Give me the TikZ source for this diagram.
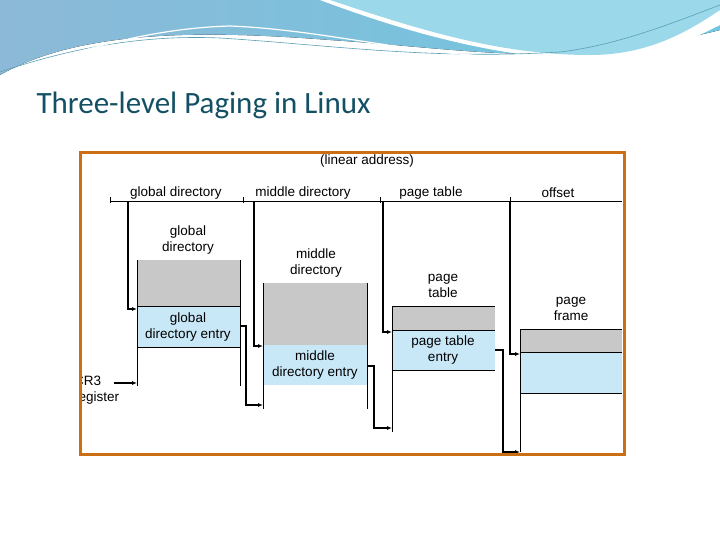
\documentclass[tikz,border=0pt]{standalone}
\usepackage{fontspec}
\setmainfont{Liberation Sans}
\newfontfamily\titlefont{Carlito}
\usetikzlibrary{arrows.meta,positioning}
\definecolor{pg_gray}{RGB}{200, 200, 200}
\definecolor{pg_blue}{RGB}{200, 232, 248}
\definecolor{pg_frame}{RGB}{204, 110, 20}
\definecolor{pg_title}{RGB}{20, 80, 100}
\definecolor{pg_wave}{RGB}{110, 200, 225}
\definecolor{pg_wave2}{RGB}{140, 185, 215}
\tikzstyle{lbl}=[font=\fontsize{13.5}{15.5}\selectfont,align=center,inner sep=0pt]
\tikzstyle{wire}=[line width=1.3pt,-{Latex[length=5pt,width=4pt]}]
\tikzstyle{edge}=[line width=0.8pt]
\tikzstyle{none}=[inner sep=0pt]
\begin{document}
\begin{tikzpicture}[x=1pt,y=-1pt]
    \useasboundingbox (0,0) rectangle (720,540);
    % banner
    \fill[left color=pg_wave2,right color=pg_wave] (0,0) -- (720,0) -- (720,30)
        .. controls (560,70) and (480,50) .. (330,40)
        .. controls (200,30) and (80,30) .. (0,75) -- cycle;
    \fill[white] (320,0) .. controls (400,30) and (500,60) .. (600,60)
        .. controls (650,60) and (690,40) .. (720,25) -- (720,0) -- cycle;
    \fill[pg_wave!70] (330,0) .. controls (420,30) and (500,55) .. (590,55)
        .. controls (650,55) and (690,30) .. (720,10) -- (720,0) -- cycle;
    \draw[pg_wave!80!black,line width=0.6pt] (0,72) .. controls (80,45) and (150,35) .. (220,38)
        .. controls (330,45) and (430,60) .. (560,52) .. controls (620,45) and (680,20) .. (720,5);
    \draw[white,line width=1.2pt] (0,78) .. controls (90,45) and (160,28) .. (230,26)
        .. controls (330,30) and (420,58) .. (540,58);
    \node[anchor=west,text=pg_title,font=\titlefont\fontsize{31}{33}\selectfont] (title) at (33,105) {Three-level Paging in Linux};

    % address bar
    \node[lbl] (la) at (367,161) {(linear address)};
    \node[none] (b0) at (110,201) {};
    \node[none] (b4) at (622,201) {};
    \draw[edge] (b0.center) -- (b4.center);
    \foreach \x in {110,243,380,510}
        \draw[edge] (\x,197) -- (\x,203);
    \node[lbl] (fgd) at (176,193) {global directory};
    \node[lbl] (fmd) at (303,193) {middle directory};
    \node[lbl] (fpt) at (431,193) {page table};
    \node[lbl] (fof) at (558,193) {offset};

    % tables
    \fill[pg_gray] (137,260) rectangle (240,306);
    \fill[pg_blue] (137,306) rectangle (240,347);
    \draw[edge] (137,260) -- (137,386) (240,260) -- (240,386) (137,306) -- (240,306) (137,347) -- (240,347);
    \node[lbl] (gd) at (188,240) {global\\directory};
    \node[lbl] (gde) at (188,327) {global\\directory entry};

    \fill[pg_gray] (263,283) rectangle (367,345);
    \fill[pg_blue] (263,345) rectangle (367,385);
    \draw[edge] (263,283) -- (263,409) (367,283) -- (367,409);
    \node[lbl] (md) at (316,263) {middle\\directory};
    \node[lbl] (mde) at (315,365) {middle\\directory entry};

    \fill[pg_gray] (392,306) rectangle (495,330);
    \fill[pg_blue] (392,330) rectangle (495,370);
    \draw[edge] (392,306) -- (392,432) (392,306) -- (495,306) (392,330) -- (495,330) (392,370) -- (495,370);
    \node[lbl] (pt) at (443,286) {page\\table};
    \node[lbl] (pte) at (443,350) {page table\\entry};

    \fill[pg_gray] (520,329) rectangle (622,352);
    \fill[pg_blue] (520,352) rectangle (622,393);
    \draw[edge] (520,329) -- (520,452) (520,329) -- (622,329) (520,352) -- (622,352) (520,393) -- (622,393);
    \node[lbl] (pf) at (571,309) {page\\frame};

    \node[lbl,anchor=west,align=left] (cr3) at (74,390) {CR3\\register};

    % pointers
    \draw[wire] (128,201) |- (137,309);
    \draw[wire] (254,201) |- (263,346);
    \draw[wire] (383,201) |- (392,332);
    \draw[wire] (510,201) |- (520,354);
    \draw[wire] (114,383) -- (137,383);
    \draw[wire] (240,326) -| (246,405) -- (263,405);
    \draw[wire] (367,366) -| (374,428) -- (392,428);
    \draw[wire] (495,350) -| (503,452) -- (520,452);

    % frame
    \fill[white] (50,150) rectangle (81.5,460);
    \draw[pg_frame,line width=3pt] (80,153) rectangle (624,454);
\end{tikzpicture}
\end{document}
